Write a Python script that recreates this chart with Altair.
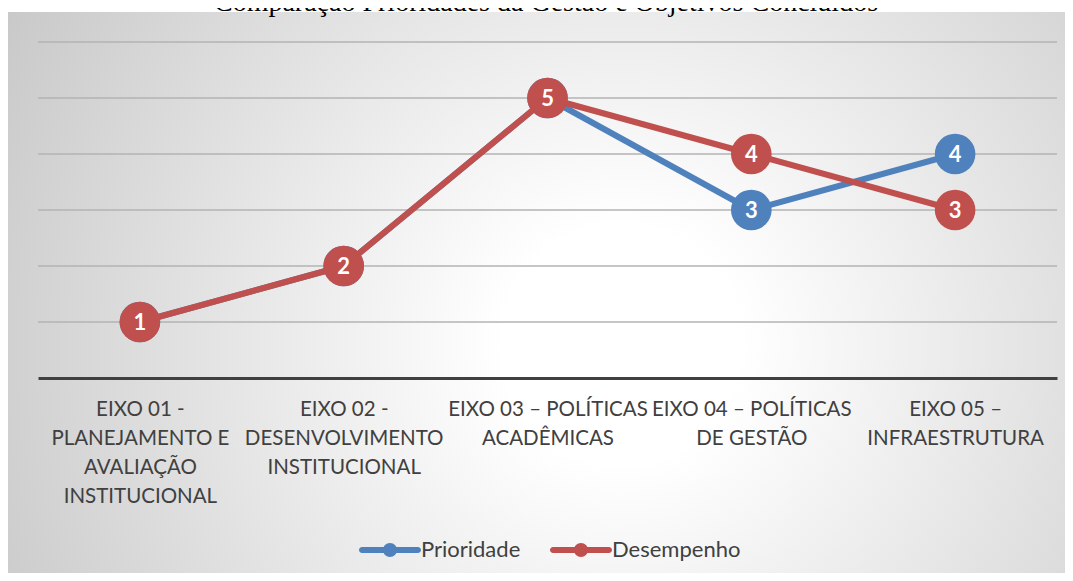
import altair as alt
import pandas as pd

title_text = ["Comparação Prioridades da Gestão e Objetivos Concluídos"]
categories = [
    "EIXO 01 -|PLANEJAMENTO E|AVALIAÇÃO|INSTITUCIONAL",
    "EIXO 02 -|DESENVOLVIMENTO|INSTITUCIONAL",
    "EIXO 03 – POLÍTICAS|ACADÊMICAS",
    "EIXO 04 – POLÍTICAS|DE GESTÃO",
    "EIXO 05 –|INFRAESTRUTURA",
]
series = ["Prioridade", "Desempenho"]
prioridade = [1, 2, 5, 3, 4]
desempenho = [1, 2, 5, 4, 3]
grid_values = [1, 2, 3, 4, 5, 6]
colors = ["#4F81BD", "#C0504D"]

W, H = 1019, 336
FONT = "Lato"

df = pd.DataFrame({
    "eixo": categories * 2,
    "serie": [series[0]] * 5 + [series[1]] * 5,
    "valor": prioridade + desempenho,
})

x_enc = alt.X(
    "eixo:N",
    sort=categories,
    scale=alt.Scale(padding=0.5),
    axis=alt.Axis(
        title=None, labelAngle=0, ticks=False, grid=False,
        domain=True, domainColor="#404040", domainWidth=3,
        labelFont=FONT, labelFontSize=20.5, labelColor="#404040",
        labelLimit=0, labelExpr="split(datum.label, '|')",
        labelLineHeight=29, labelPadding=21, labelBaseline="top",
        zindex=1,
    ),
)
y_scale = alt.Scale(domain=[0, 6], nice=False, zero=True)
y_enc = alt.Y("valor:Q", scale=y_scale, axis=None)
color_scale = alt.Scale(domain=series, range=colors)

legend_symbol = (
    "M-1,-0.107H1a0.107,0.107 0 0,1 0,0.214H-1a0.107,0.107 0 0,1 0,-0.214Z"
    "M-0.25,0a0.25,0.25 0 1,1 0.5,0a0.25,0.25 0 1,1 -0.5,0Z"
)
color_legend = alt.Color(
    "serie:N",
    scale=color_scale,
    legend=alt.Legend(
        title=None, orient="none", direction="horizontal",
        legendX=324, legendY=480,
        symbolType=legend_symbol,
        symbolSize=3136, symbolStrokeWidth=0, symbolOpacity=1,
        labelFont=FONT, labelFontSize=22, labelColor="#404040",
        labelOffset=3, columnPadding=29,
    ),
)

bg = alt.Chart(pd.DataFrame({"t": title_text})).mark_rect(
    fill=alt.Gradient(
        gradient="radial", x1=0.58, y1=0.55, x2=0.58, y2=0.55, r1=0, r2=0.75,
        stops=[alt.GradientStop(offset=0, color="#ffffff"),
               alt.GradientStop(offset=0.15, color="#ffffff"),
               alt.GradientStop(offset=1, color="#c0c0c0")],
    )
).encode(x=alt.value(-30), x2=alt.value(1027), y=alt.value(-30), y2=alt.value(531))

title = alt.Chart(pd.DataFrame({"t": title_text})).mark_text(
    font="Liberation Serif", fontSize=28, color="#000000",
    align="center", baseline="alphabetic",
).encode(text="t:N", x=alt.value(508), y=alt.value(-31))

grid = alt.Chart(pd.DataFrame({"valor": grid_values})).mark_rule(
    color="#b3b3b3", strokeWidth=1.5
).encode(y=alt.Y("valor:Q", scale=y_scale, axis=None))

layers = [bg, title, grid]
for s, c in zip(series, colors):
    base = alt.Chart(df).transform_filter(alt.datum.serie == s)
    line = base.mark_line(color=c, strokeWidth=6, strokeCap="round", strokeJoin="round").encode(
        x=x_enc, y=y_enc)
    pts = base.mark_circle(size=1650, opacity=1).encode(
        x=x_enc, y=y_enc, color=color_legend)
    txt = base.mark_text(font=FONT, fontWeight="bold", fontSize=22, color="white",
                         baseline="middle", align="center", dy=1).encode(
        x=x_enc, y=y_enc, text="valor:Q")
    layers += [line, pts, txt]

chart = alt.layer(*layers).properties(
    width=W, height=H,
    autosize=alt.AutoSizeParams(type="none"),
    padding={"left": 30, "top": 34, "right": 8, "bottom": 195},
).configure_view(stroke=None).configure(background="#ffffff")

chart.save("out.html", embed_options={"renderer": "svg", "actions": False})
